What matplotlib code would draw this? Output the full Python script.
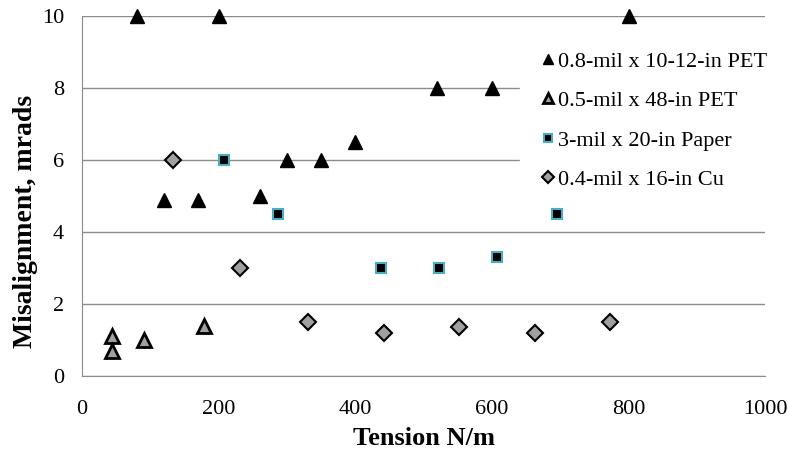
import matplotlib.pyplot as plt

plt.rcParams['font.family'] = ['Liberation Serif', 'DejaVu Serif']

# misalignment vs web tension for four webs
pet08_x = [80, 200, 120, 170, 260, 300, 350, 400, 520, 600, 800]
pet08_y = [10, 10, 4.9, 4.9, 5.0, 6.0, 6.0, 6.5, 8.0, 8.0, 10]

pet05_x = [44, 44, 90, 179]
pet05_y = [1.1, 0.7, 1.0, 1.4]

paper_x = [208, 287, 437, 522, 608, 695]
paper_y = [6.0, 4.5, 3.0, 3.0, 3.3, 4.5]

cu_x = [133, 231, 331, 442, 552, 663, 773]
cu_y = [6.0, 3.0, 1.5, 1.2, 1.35, 1.2, 1.5]

labels = ['0.8-mil x 10-12-in PET', '0.5-mil x 48-in PET',
          '3-mil x 20-in Paper', '0.4-mil x 16-in Cu']

fig = plt.figure(figsize=(7.89, 4.57), dpi=100)
ax = fig.add_axes([0.104, 0.177, 0.866, 0.788])

ax.plot(pet08_x, pet08_y, '^', color='black', ms=10, mew=1,
        label=labels[0], clip_on=False, zorder=6)
ax.plot(pet05_x, pet05_y, '^', mfc='#a0a0a0', mec='black', ms=10, mew=2,
        label=labels[1], clip_on=False, zorder=6)
ax.plot(paper_x, paper_y, 's', mfc='black', mec='#4bacc6', ms=7, mew=1.5,
        label=labels[2], clip_on=False, zorder=6)
ax.plot(cu_x, cu_y, 'D', mfc='#a0a0a0', mec='black', ms=8, mew=1.5,
        label=labels[3], clip_on=False, zorder=6)

ax.set_xlim(0, 1000)
ax.set_ylim(0, 10)
ax.set_xticks(range(0, 1001, 200))
ax.set_yticks(range(0, 11, 2))
ax.tick_params(length=0, labelsize=16)
ax.tick_params(axis='x', pad=17)
ax.tick_params(axis='y', pad=13)
ax.yaxis.grid(True, color='#8c8c8c', lw=1)
ax.set_axisbelow(True)
for s in ['top', 'right']:
    ax.spines[s].set_visible(False)
for s in ['left', 'bottom']:
    ax.spines[s].set_color('#8c8c8c')

ax.set_xlabel('Tension N/m', fontsize=19, fontweight='bold', labelpad=6)
ax.set_ylabel('Misalignment, mrads', fontsize=20, fontweight='bold')
ax.yaxis.set_label_coords(-0.064, 0.43)

leg = ax.legend(loc='upper left', bbox_to_anchor=(0.641, 0.958), fontsize=16,
                frameon=True, fancybox=False, framealpha=1, edgecolor='white',
                handletextpad=0.1, handlelength=0.7, labelspacing=0.85,
                borderpad=0.9, markerscale=0.75, borderaxespad=0)
leg.set_zorder(5)

fig.savefig('out.png', dpi=100)
